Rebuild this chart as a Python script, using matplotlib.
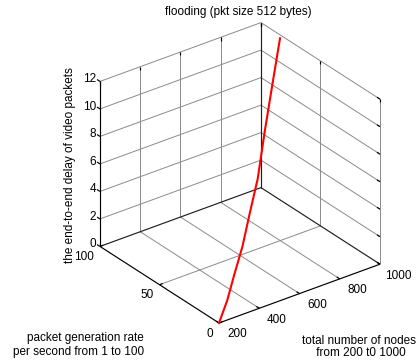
import matplotlib
matplotlib.use('Agg')
import matplotlib.pyplot as plt
from mpl_toolkits.mplot3d import proj3d

# ---- data ----
nodes = [200, 300, 400, 500, 600, 700, 800, 900, 1000]
rate = [0, 10, 21, 31, 42, 52, 63, 73, 84]
delay = [0.0, 0.55, 1.27, 2.24, 3.43, 4.93, 7.23, 9.81, 11.75]

x_ticks = [200, 400, 600, 800, 1000]
y_ticks = [0, 50, 100]
z_ticks = [0, 2, 4, 6, 8, 10, 12]

title = 'flooding (pkt size 512 bytes)'
xlabel = 'total number of nodes\n from 200 t0 1000'
ylabel = 'packet generation rate\nper second from 1 to 100'
zlabel = 'the end-to-end delay of video packets'

plt.rcParams['font.family'] = ['Liberation Sans', 'DejaVu Sans']
FS = 8.5
W, H = 417, 360
fig = plt.figure(figsize=(W / 100, H / 100), dpi=100)
ax = fig.add_axes([0, 0, 1, 1], projection='3d', proj_type='ortho')
ax.computed_zorder = False
x0, x1 = x_ticks[0], x_ticks[-1]
y0, y1 = y_ticks[0], y_ticks[-1]
z0, z1 = z_ticks[0], z_ticks[-1]
ax.set_xlim(x0, x1)
ax.set_ylim(y0, y1)
ax.set_zlim(z0, z1)
ax.view_init(elev=29, azim=-127)
aspect = (1, 0.981, 0.936)
ax.set_box_aspect(aspect)
ax.set_axis_off()

GRID = '#8a8a8a'
DARK = '#202020'
glw = 0.7
blw = 0.85


def seg(xs, ys, zs, color, lw, z=1):
    ax.plot(xs, ys, zs, color=color, lw=lw, zorder=z, solid_capstyle='butt')


# back-left wall (y = y1)
for zt in z_ticks[1:]:
    seg([x0, x1], [y1, y1], [zt, zt], GRID, glw)
for xt in x_ticks[1:-1]:
    seg([xt, xt], [y1, y1], [z0, z1], GRID, glw)
# back-right wall (x = x1)
for zt in z_ticks[1:]:
    seg([x1, x1], [y0, y1], [zt, zt], GRID, glw)
for yt in y_ticks[:-1]:
    seg([x1, x1], [yt, yt], [z0, z1], GRID, glw)
# floor
for xt in x_ticks[1:-1]:
    seg([xt, xt], [y0, y1], [z0, z0], GRID, glw)
for yt in y_ticks[1:-1]:
    seg([x0, x1], [yt, yt], [z0, z0], GRID, glw)
# darker overlapping edges
seg([x0, x1], [y1, y1], [z0, z0], DARK, blw, 2)
seg([x1, x1], [y0, y1], [z0, z0], DARK, blw, 2)
seg([x1, x1], [y1, y1], [z0, z1], DARK, blw, 2)
# main axes
seg([x0, x1], [y0, y0], [z0, z0], 'black', blw, 3)
seg([x0, x0], [y0, y1], [z0, z0], 'black', blw, 3)
seg([x0, x0], [y1, y1], [z0, z1], 'black', blw, 3)

# tick marks
dx = (x1 - x0) * 0.02
dy = (y1 - y0) * 0.025
dz = (z1 - z0) * 0.02
for xt in x_ticks:
    seg([xt, xt], [y0, y0 + dy], [z0, z0], 'black', blw, 3)
    seg([xt, xt], [y1, y1], [z1, z1 - dz], 'black', blw, 3)
for yt in y_ticks:
    seg([x0, x0 + dx], [yt, yt], [z0, z0], 'black', blw, 3)
    seg([x1, x1], [yt, yt], [z1, z1 - dz], 'black', blw, 3)
for zt in z_ticks:
    seg([x0, x0], [y1, y1 + dy], [zt, zt], 'black', blw, 3)
    seg([x1, x1], [y0, y0 + dy], [zt, zt], 'black', blw, 3)

# data curve
ax.plot(nodes, rate, delay, color='#ff0000', lw=1.5, zorder=5)

# labels
fig.text(238.3 / W, 1 - 12 / H, title, ha='center', va='center', fontsize=FS)
fig.text(69.5 / W, 1 - 165 / H, zlabel, ha='center', va='center', rotation=90, fontsize=FS)
fig.text(144 / W, 1 - 345 / H, ylabel, ha='right', va='center', multialignment='right',
         fontsize=FS, linespacing=1.15)
fig.text(359 / W, 1 - 347 / H, xlabel, ha='center', va='center', multialignment='center',
         fontsize=FS, linespacing=1.1)


# ---- fit the 3D box to the target layout ----
def px(x, y, z):
    xs, ys, _ = proj3d.proj_transform(x, y, z, ax.get_proj())
    return ax.transData.transform((xs, ys))


target_front = (219, H - 323)
target_width = 280
zoom = 1.0
for _ in range(3):
    fig.canvas.draw()
    pr = px(x1, y0, z0)
    pl = px(x0, y1, z1)
    zoom *= target_width / (pr[0] - pl[0])
    ax.set_box_aspect(aspect, zoom=zoom)
    fig.canvas.draw()
    pf = px(x0, y0, z0)
    pos = ax.get_position()
    ax.set_position([pos.x0 + (target_front[0] - pf[0]) / W,
                     pos.y0 + (target_front[1] - pf[1]) / H,
                     pos.width, pos.height])
fig.canvas.draw()


# tick labels, placed at the projected positions of 3D anchors
def label_at(x, y, z, s, **kw):
    p = px(x, y, z)
    fig.text(p[0] / W, p[1] / H, s, fontsize=FS, **kw)


for xt in x_ticks:
    label_at(xt, y0 - 15, z0, str(xt), ha='center', va='center')
for yt in y_ticks:
    label_at(x0 - 31, yt, z0 - 0.61, str(yt), ha='right', va='center')
for zt in z_ticks:
    label_at(x0, y1 + 3, zt, str(zt), ha='right', va='center')

fig.savefig('out.png', dpi=100)
